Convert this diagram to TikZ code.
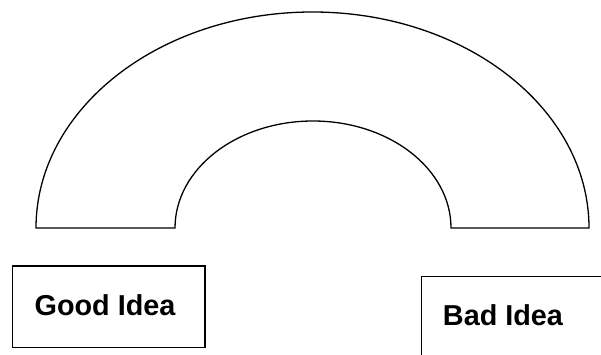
\documentclass[tikz,border=0pt]{standalone}
\usepackage{fontspec}
\setmainfont{Liberation Sans}
\begin{document}
\begin{tikzpicture}[x=1pt,y=1pt,
  shape line/.style={draw=black,line width=1.3pt},
  ideabox/.style={shape line,rectangle,inner sep=0pt},
  idealabel/.style={font=\fontsize{28.8}{34}\selectfont\bfseries,inner sep=0pt}]
\useasboundingbox (0,0) rectangle (601,354);
% arch
\draw[shape line,line join=miter] (36,126) coordinate (ol)
  arc[start angle=180,end angle=0,x radius=276.5,y radius=216] coordinate (or)
  -- (451,126) coordinate (ir)
  arc[start angle=0,end angle=180,x radius=138,y radius=107] coordinate (il)
  -- cycle;
% good idea box
\node[ideabox,minimum width=192.3pt,minimum height=81.7pt] (goodbox) at (108.9,47.1) {};
\node[idealabel] (good) at (105,49) {Good Idea};
% bad idea box (runs off the page)
\node[ideabox,anchor=north west,minimum width=200pt,minimum height=100pt] (badbox) at (420.7,78) {};
\node[idealabel] (bad) at (503,39) {Bad Idea};
\end{tikzpicture}
\end{document}
